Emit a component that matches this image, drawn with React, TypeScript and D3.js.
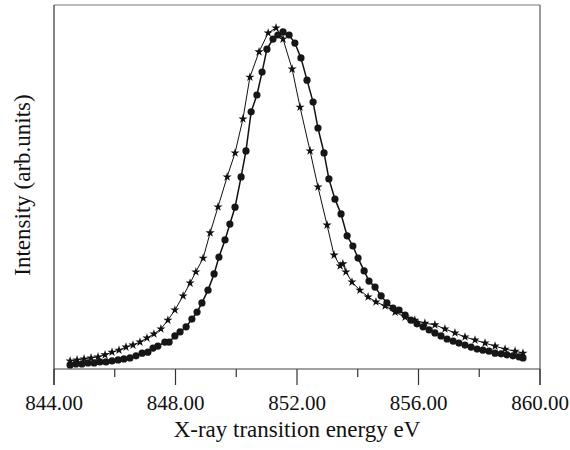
import React from "react";
import * as d3 from "d3";

// Spectrum A (filled circles): energy (eV) and intensity (arb. units)
const circleEnergy = [
  844.53, 844.72, 844.92, 845.12, 845.32, 845.51, 845.71, 845.91, 846.11, 846.3,
  846.5, 846.7, 846.9, 847.09, 847.26, 847.42, 847.65, 847.79, 847.98, 848.15,
  848.35, 848.54, 848.71, 848.87, 849.07, 849.27, 849.43, 849.63, 849.79, 849.96,
  850.16, 850.32, 850.49, 850.68, 850.85, 851.01, 851.21, 851.37, 851.54, 851.74,
  851.93, 852.13, 852.33, 852.53, 852.69, 852.89, 853.05, 853.25, 853.45, 853.65,
  853.84, 854.01, 854.21, 854.37, 854.57, 854.77, 854.96, 855.16, 855.36, 855.56,
  855.75, 855.95, 856.15, 856.35, 856.54, 856.74, 856.94, 857.14, 857.33, 857.53,
  857.73, 857.93, 858.12, 858.32, 858.52, 858.72, 858.91, 859.11, 859.31, 859.44,
];
const circleIntensity = [
  0.012, 0.015, 0.015, 0.018, 0.018, 0.021, 0.021, 0.024, 0.027, 0.03,
  0.033, 0.039, 0.047, 0.05, 0.062, 0.068, 0.08, 0.08, 0.098, 0.11,
  0.125, 0.148, 0.169, 0.196, 0.234, 0.282, 0.332, 0.383, 0.43, 0.48,
  0.57, 0.647, 0.763, 0.813, 0.881, 0.949, 0.979, 0.991, 1.0, 0.991,
  0.967, 0.923, 0.857, 0.792, 0.715, 0.641, 0.564, 0.504, 0.46, 0.395,
  0.365, 0.329, 0.291, 0.261, 0.243, 0.217, 0.196, 0.181, 0.175, 0.16,
  0.145, 0.134, 0.125, 0.116, 0.107, 0.098, 0.089, 0.083, 0.077, 0.071,
  0.065, 0.059, 0.056, 0.053, 0.047, 0.045, 0.042, 0.039, 0.036, 0.033,
];

// Spectrum B (stars)
const starEnergy = [
  844.53, 844.76, 844.99, 845.22, 845.45, 845.68, 845.91, 846.14, 846.37, 846.6,
  846.83, 847.06, 847.29, 847.52, 847.75, 847.98, 848.25, 848.48, 848.67, 848.91,
  849.14, 849.4, 849.7, 849.96, 850.22, 850.45, 850.75, 851.05, 851.31, 851.54,
  851.84, 852.1, 852.43, 852.69, 852.99, 853.22, 853.42, 853.51, 853.61, 853.81,
  854.07, 854.34, 854.6, 854.9, 855.23, 855.56, 855.88, 856.21, 856.54, 856.87,
  857.2, 857.53, 857.86, 858.19, 858.52, 858.85, 859.18, 859.44,
];
const starIntensity = [
  0.024, 0.027, 0.03, 0.033, 0.036, 0.042, 0.05, 0.056, 0.065, 0.071,
  0.08, 0.092, 0.104, 0.119, 0.145, 0.175, 0.217, 0.255, 0.288, 0.329,
  0.404, 0.481, 0.57, 0.641, 0.742, 0.866, 0.941, 0.997, 1.012, 0.979,
  0.89, 0.777, 0.647, 0.54, 0.427, 0.338, 0.306, 0.312, 0.288, 0.258,
  0.234, 0.214, 0.199, 0.187, 0.169, 0.154, 0.145, 0.136, 0.131, 0.119,
  0.107, 0.095, 0.086, 0.077, 0.068, 0.059, 0.053, 0.047,
];

const majorTicks = [844, 848, 852, 856, 860];
const minorTicks = [846, 850, 854, 858];
const tickLabels = ["844.00", "848.00", "852.00", "856.00", "860.00"];

const W = 570;
const H = 450;
const left = 54;
const right = 540;
const top = 5;
const bottom = 369;

const font = '"Liberation Serif", "Times New Roman", serif';

export default function App() {
  const x = d3.scaleLinear().domain([844, 860]).range([left, right]);
  const y = d3.scaleLinear().domain([0, 1.08]).range([bottom, top]);

  const circles = circleEnergy.map((e, i) => [e, circleIntensity[i]] as [number, number]);
  const stars = starEnergy.map((e, i) => [e, starIntensity[i]] as [number, number]);

  const line = d3
    .line<[number, number]>()
    .x((d) => x(d[0]))
    .y((d) => y(d[1]));

  const starPath = d3.symbol().type(d3.symbolStar).size(26)() || "";

  return (
    <svg
      width={W}
      height={H}
      style={{ position: "absolute", left: 0, top: 0, background: "#fff" }}
    >
      {/* frame */}
      <line x1={left} x2={right} y1={top} y2={top} stroke="#777" strokeWidth={1.2} />
      <line x1={left} x2={left} y1={top} y2={bottom + 16} stroke="#333" strokeWidth={1.2} />
      <line x1={right} x2={right} y1={top} y2={bottom + 16} stroke="#555" strokeWidth={1.2} />
      <line x1={left} x2={right} y1={bottom} y2={bottom} stroke="#444" strokeWidth={1.2} />

      {/* ticks */}
      {majorTicks.map((t) => (
        <line key={"M" + t} x1={x(t)} x2={x(t)} y1={bottom} y2={bottom + 16} stroke="#333" strokeWidth={1.2} />
      ))}
      {minorTicks.map((t) => (
        <line key={"m" + t} x1={x(t)} x2={x(t)} y1={bottom} y2={bottom + 8} stroke="#333" strokeWidth={1.2} />
      ))}
      {majorTicks.map((t, i) => (
        <text
          key={"l" + t}
          x={x(t)}
          y={410}
          textAnchor="middle"
          fontFamily={font}
          fontSize={21}
          fill="#111"
        >
          {tickLabels[i]}
        </text>
      ))}

      {/* axis titles */}
      <text x={297} y={437} textAnchor="middle" fontFamily={font} fontSize={23} fill="#111">
        X-ray transition energy eV
      </text>
      <text
        transform={`translate(30,185) rotate(-90)`}
        textAnchor="middle"
        fontFamily={font}
        fontSize={23}
        fill="#111"
      >
        Intensity (arb.units)
      </text>

      {/* spectrum B: stars */}
      <path d={line(stars) || ""} fill="none" stroke="#111" strokeWidth={1} />
      {stars.map((d, i) => (
        <path
          key={"s" + i}
          d={starPath}
          transform={`translate(${x(d[0])},${y(d[1])})`}
          fill="#111"
        />
      ))}

      {/* spectrum A: circles */}
      <path d={line(circles) || ""} fill="none" stroke="#111" strokeWidth={1.5} />
      {circles.map((d, i) => (
        <circle key={"c" + i} cx={x(d[0])} cy={y(d[1])} r={3.6} fill="#161616" />
      ))}
    </svg>
  );
}
